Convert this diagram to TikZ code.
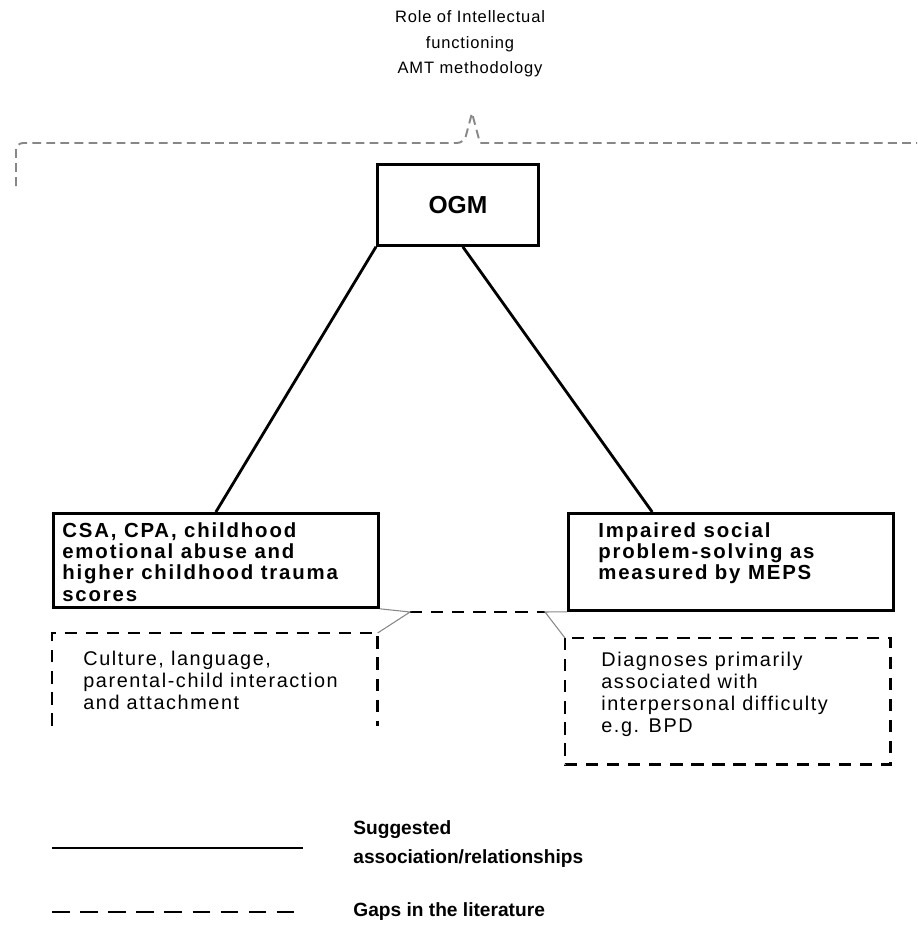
\documentclass[tikz,border=0pt]{standalone}
\usepackage{fontspec}
\setmainfont{Liberation Sans}
\usetikzlibrary{positioning,calc}
\definecolor{bracketgray}{RGB}{135,135,135}
\newcommand{\boxfont}{\fontsize{11.6}{12.2}\selectfont\bfseries\addfontfeatures{LetterSpace=9}}
\newcommand{\gapfont}{\fontsize{11.3}{12.5}\selectfont\addfontfeatures{LetterSpace=8}}
\newcommand{\topfont}{\fontsize{9.4}{14.5}\selectfont\addfontfeatures{LetterSpace=5}}
\newcommand{\legendfont}{\fontsize{10.9}{16.4}\selectfont\bfseries}

\begin{document}
\begin{tikzpicture}[x=0.02cm,y=-0.02cm,
  box/.style={draw, line width=1.6pt, inner sep=0pt, anchor=north west},
  gapbox/.style={inner sep=0pt, anchor=north west},
  boxtext/.style={font=\boxfont, align=left, anchor=north west, inner sep=0pt},
  gaptext/.style={font=\gapfont, align=left, anchor=north west, inner sep=0pt},
  link/.style={line width=1.6pt},
  gap/.style={line width=1.6pt, dash pattern=on 7pt off 5pt},
  callout/.style={draw=bracketgray, line width=0.6pt},
  bracket/.style={draw=bracketgray, line width=1.1pt, dash pattern=on 5pt off 3pt, rounded corners=4pt}]
\useasboundingbox (0,0) rectangle (917,926);

% Intellectual functioning bracket
\node[font=\topfont, align=center] (intel) at (470,44) {Role of Intellectual\\functioning\\AMT methodology};
\coordinate (peak) at (472,113);
\draw[bracket] (16,186) -- (16,143) -- (464,143) [sharp corners] -- (peak) -- (480,143) -- (917,143);

% Boxes
\node[box, minimum width=3.22cm, minimum height=1.62cm, font=\fontsize{14}{14}\selectfont\bfseries] (ogm) at (376,163) {OGM};
\node[box, minimum width=6.5cm, minimum height=1.88cm] (csa) at (52,512) {};
\node[boxtext] (csatext) at (62,522) {CSA, CPA, childhood\\emotional abuse and\\higher childhood trauma\\scores};
\node[box, minimum width=6.5cm, minimum height=1.94cm] (meps) at (567,512) {};
\node[boxtext] (mepstext) at (598,522) {Impaired social\\problem-solving as\\measured by MEPS};

% Gaps
\node[gapbox, minimum width=6.5cm, minimum height=1.84cm] (culture) at (52,633) {};
\draw[gap] (culture.south west) -- (culture.north west) -- (culture.north east) -- (culture.south east);
\node[gaptext] (culturetext) at (83,651) {Culture, language,\\parental-child interaction\\and attachment};
\node[gapbox, minimum width=6.5cm, minimum height=2.52cm] (bpd) at (565,638) {};
\draw[gap] (bpd.north west) rectangle (bpd.south east);
\node[gaptext] (bpdtext) at (601,652) {Diagnoses primarily\\associated with\\interpersonal difficulty\\e.g. BPD};

% Connectors
\draw[link] (ogm.south west) -- (csa.north);
\draw[link] ($(ogm.south west)!0.53!(ogm.south east)$) -- ($(meps.north west)!0.26!(meps.north east)$);
\coordinate (gapL) at (410,612);
\coordinate (gapR) at (545,612);
\draw[gap] (gapL) -- (gapR);
\draw[callout] (csa.south east) -- (gapL) -- (culture.north east);
\draw[callout] (meps.south west) -- (gapR) -- (bpd.north west);

% Legend
\coordinate (solidA) at (52,848);
\coordinate (solidB) at (303,848);
\draw[link] (solidA) -- (solidB);
\node[font=\legendfont, align=left, anchor=west, inner sep=0pt] (legsolid) at (353,844) {Suggested\\association/relationships};
\coordinate (gapA) at (52,912);
\coordinate (gapB) at (303,912);
\draw[line width=1.6pt, dash pattern=on 10pt off 6pt] (gapA) -- (gapB);
\node[font=\legendfont, anchor=west, inner sep=0pt] (leggap) at (353,912) {Gaps in the literature};
\end{tikzpicture}
\end{document}
